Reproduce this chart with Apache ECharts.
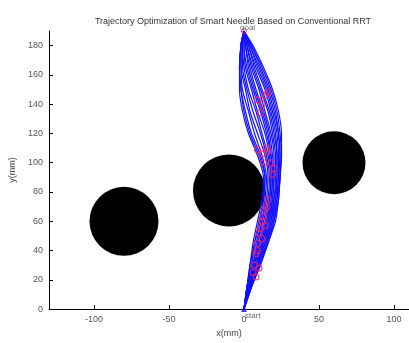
<!DOCTYPE html>
<html>
<head>
<meta charset="utf-8">
<script src="https://cdn.jsdelivr.net/npm/echarts@6/dist/echarts.min.js"></script>
<style>
  html, body { margin: 0; padding: 0; background: #fff; }
  #chart { width: 409px; height: 343px; }
</style>
</head>
<body>
<div id="chart"></div>
<script>
// y levels shared by every trajectory (mm)
const yLevels = [0, 15, 30, 45, 60, 75, 90, 105, 120, 135, 150, 165, 180, 190];

// x of each trajectory at the y levels above (mm)
const pathX = [
  [0, 5, 11, 16, 21, 23, 24, 25, 25, 23, 19, 13, 6, 0],
  [0, 5, 10, 16, 20, 23, 24, 25, 24, 22, 18, 12, 5, 0],
  [0, 5, 10, 15, 20, 22, 24, 24, 23, 21, 17, 11, 5, 0],
  [0, 4, 10, 15, 19, 22, 23, 24, 23, 20, 16, 10, 4, 0],
  [0, 4, 9, 14, 19, 21, 23, 23, 22, 19, 15, 9, 4, 0],
  [0, 4, 9, 14, 18, 21, 22, 22, 21, 18, 14, 8, 3, 0],
  [0, 4, 9, 13, 18, 20, 22, 22, 20, 17, 12, 7, 3, 0],
  [0, 4, 8, 13, 17, 20, 21, 21, 19, 16, 11, 6, 2, 0],
  [0, 3, 8, 12, 17, 19, 20, 20, 18, 14, 10, 5, 2, 0],
  [0, 3, 8, 12, 16, 19, 20, 19, 17, 13, 8, 4, 1, 0],
  [0, 3, 7, 11, 16, 18, 19, 18, 16, 12, 7, 3, 1, 0],
  [0, 3, 7, 11, 15, 18, 19, 18, 15, 11, 6, 2, 0, 0],
  [0, 3, 7, 10, 15, 17, 18, 17, 14, 9, 5, 1, 0, 0],
  [0, 3, 6, 10, 14, 17, 18, 16, 12, 8, 3, 0, -1, 0],
  [0, 3, 6, 9, 13, 16, 17, 15, 11, 6, 2, -1, -1, 0],
  [0, 2, 6, 9, 12, 15, 16, 14, 9, 4, 1, -2, -2, 0],
  [0, 2, 5, 8, 12, 14, 15, 12, 7, 3, -1, -2, -2, 0],
  [0, 2, 5, 7, 11, 13, 14, 11, 5, 1, -2, -3, -2, 0],
  [0, 2, 4, 7, 10, 13, 14, 10, 4, 0, -2, -3, -2, 0],
  [0, 2, 4, 6, 9, 12, 13, 9, 3, -1, -3, -3, -2, 0]
];

// tree nodes drawn as red circles (mm)
const nodes = [
  [14, 146], [9, 143], [11, 134], [16, 148], [12, 140],
  [9, 109], [15, 110], [16, 108], [19, 92], [12, 106], [13, 100], [18, 100], [20, 96],
  [16, 75], [14, 68], [12, 60], [10, 52], [9, 45], [8, 38], [14, 57], [12, 48],
  [7, 30], [6, 25], [11, 55], [13, 63], [15, 70], [9, 40], [10, 28], [8, 22]
];

// obstacles: centre x, centre y, radius (mm)
const obstacles = [[-80, 60, 23], [-10, 81, 24], [60, 100, 21]];

const startPt = [0, 0];
const goalPt = [0, 190];

const xTicks = [-100, -50, 0, 50, 100];
const yTicks = [0, 20, 40, 60, 80, 100, 120, 140, 160, 180];

const chart = echarts.init(document.getElementById('chart'));

const lineSeries = pathX.map(xs => ({
  type: 'line',
  data: xs.map((x, i) => [x, yLevels[i]]),
  smooth: 0.25,
  showSymbol: false,
  silent: true,
  z: 3,
  lineStyle: { color: '#1010ff', width: 1.2 }
}));

const option = {
  animation: false,
  title: {
    text: 'Trajectory Optimization of Smart Needle Based on Conventional RRT',
    left: 228,
    top: 12,
    textAlign: 'center',
    textStyle: { fontFamily: 'Liberation Sans', fontSize: 9, fontWeight: 'normal', color: '#333' }
  },
  grid: { left: 49, right: 0, top: 31, bottom: 28 },
  xAxis: {
    type: 'value',
    min: -130,
    max: 110,
    name: 'x(mm)',
    nameLocation: 'middle',
    nameGap: 19,
    nameTextStyle: { fontFamily: 'Liberation Sans', fontSize: 9, color: '#444' },
    axisLine: { onZero: false, lineStyle: { color: '#000', width: 1 } },
    axisTick: { inside: true, length: 4, customValues: xTicks, lineStyle: { color: '#000' } },
    axisLabel: { customValues: xTicks, fontFamily: 'Liberation Sans', fontSize: 9, color: '#555', margin: 6 },
    splitLine: { show: false }
  },
  yAxis: {
    type: 'value',
    min: 0,
    max: 190,
    name: 'y(mm)',
    nameLocation: 'middle',
    nameGap: 24,
    nameTextStyle: { fontFamily: 'Liberation Sans', fontSize: 9, color: '#444' },
    axisLine: { show: true, onZero: false, lineStyle: { color: '#000', width: 1 } },
    axisTick: { show: true, inside: true, length: 4, customValues: yTicks, lineStyle: { color: '#000' } },
    axisLabel: { customValues: yTicks, fontFamily: 'Liberation Sans', fontSize: 9, color: '#555', margin: 6 },
    splitLine: { show: false }
  },
  series: [
    {
      type: 'custom',
      data: obstacles,
      z: 2,
      renderItem: (params, api) => {
        const c = api.coord([api.value(0), api.value(1)]);
        const r = api.size([api.value(2), 0])[0];
        return { type: 'circle', shape: { cx: c[0], cy: c[1], r: r }, style: { fill: '#000' } };
      }
    },
    ...lineSeries,
    {
      type: 'scatter',
      data: nodes,
      symbol: 'circle',
      symbolSize: 6,
      z: 4,
      itemStyle: { color: 'rgba(0,0,0,0)', borderColor: '#ee2266', borderWidth: 1.2 }
    },
    {
      type: 'scatter',
      data: [startPt],
      symbol: 'triangle',
      symbolSize: 6,
      z: 5,
      itemStyle: { color: '#1010ff' },
      label: { show: true, formatter: 'start', position: [4, 6], fontFamily: 'Liberation Sans', fontSize: 8, color: '#444' }
    },
    {
      type: 'scatter',
      data: [goalPt],
      symbol: 'circle',
      symbolSize: 5,
      z: 5,
      itemStyle: { color: 'rgba(0,0,0,0)', borderColor: '#ee2266', borderWidth: 1 },
      label: { show: true, formatter: 'goal', position: [-1, -4], fontFamily: 'Liberation Sans', fontSize: 8, color: '#444' }
    }
  ]
};

chart.setOption(option);
</script>
</body>
</html>
